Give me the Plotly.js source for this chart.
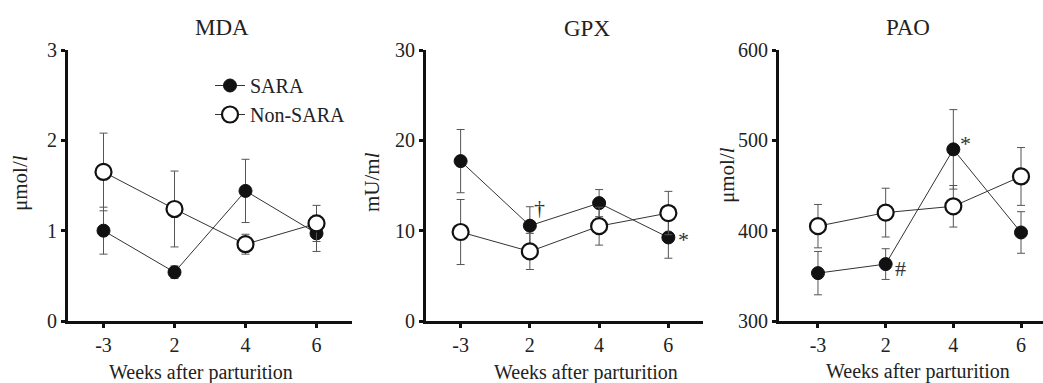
<!DOCTYPE html>
<html>
<head>
<meta charset="utf-8">
<script src="https://cdn.plot.ly/plotly-3.0.1.min.js"></script>
<style>html,body{margin:0;padding:0;background:#fff}#chart{width:1043px;height:383px}</style>
</head>
<body>
<div id="chart"></div>
<script>
// ---- data ----
const weeks = ["-3", "2", "4", "6"];
const panelTitles = ["MDA", "GPX", "PAO"];
const yTitles = ["μmol/<i>l</i>", "mU/m<i>l</i>", "μmol/<i>l</i>"];
const xTitle = "Weeks after parturition";
const seriesNames = ["SARA", "Non-SARA"];

const mdaSara = [1.00, 0.54, 1.44, 0.97];
const mdaSaraErr = [0.26, 0.07, 0.35, 0.20];
const mdaNon = [1.65, 1.24, 0.85, 1.08];
const mdaNonErr = [0.43, 0.42, 0.11, 0.20];

const gpxSara = [17.7, 10.55, 13.05, 9.25];
const gpxSaraErr = [3.5, 2.1, 1.5, 2.3];
const gpxNon = [9.85, 7.7, 10.5, 11.95];
const gpxNonErr = [3.6, 2.0, 2.1, 2.4];

const paoSara = [353, 363, 490, 398];
const paoSaraErr = [24, 17, 44, 23];
const paoNon = [405, 420, 427, 460];
const paoNonErr = [24, 27, 23, 32];

const yRanges = [[0, 3], [0, 30], [300, 600]];
const yDticks = [1, 10, 100];

// significance marks: [panel index, week index, symbol]
const marks = [[1, 1, "†"], [1, 3, "*"], [2, 1, "#"], [2, 2, "*"]];
// ---- end data ----

const FONT = "Liberation Serif, Times New Roman, serif";
const TXT = "#222";
const sara = [mdaSara, gpxSara, paoSara];
const saraErr = [mdaSaraErr, gpxSaraErr, paoSaraErr];
const non = [mdaNon, gpxNon, paoNon];
const nonErr = [mdaNonErr, gpxNonErr, paoNonErr];

const traces = [];
for (let p = 0; p < 3; p++) {
  const xa = p === 0 ? "x" : "x" + (p + 1);
  const ya = p === 0 ? "y" : "y" + (p + 1);
  traces.push({
    x: weeks, y: sara[p], xaxis: xa, yaxis: ya, type: "scatter", mode: "lines+markers",
    name: seriesNames[0], showlegend: p === 0, legendrank: 1,
    line: {color: "#333", width: 1},
    marker: {color: "#111", size: 13, line: {color: "#111", width: 1}},
    error_y: {type: "data", array: saraErr[p], visible: true, color: "#555", thickness: 1, width: 4}
  });
  traces.push({
    x: weeks, y: non[p], xaxis: xa, yaxis: ya, type: "scatter", mode: "lines+markers",
    name: seriesNames[1], showlegend: p === 0, legendrank: 2,
    line: {color: "#333", width: 1},
    marker: {color: "#fff", size: 16, line: {color: "#111", width: 2.2}},
    error_y: {type: "data", array: nonErr[p], visible: true, color: "#555", thickness: 1, width: 4}
  });
}

const W = 1043, H = 383;
const xDomains = [[68 / W, 352 / W], [426 / W, 703 / W], [779 / W, 1]];
const xRanges = [[-0.5, 3.5], [-0.5, 3.5], [-0.576, 3.325]];
const yDomain = [(H - 321) / H, (H - 50) / H];

const layout = {
  width: W, height: H,
  margin: {l: 0, r: 0, t: 0, b: 0},
  paper_bgcolor: "#fff", plot_bgcolor: "#fff",
  font: {family: FONT, size: 20, color: TXT},
  showlegend: true,
  legend: {x: 210 / W, y: 1 - 66 / H, xanchor: "left", yanchor: "top",
    bgcolor: "rgba(0,0,0,0)", font: {family: FONT, size: 20, color: TXT},
    tracegroupgap: 0, itemwidth: 30},
  annotations: []
};

for (let p = 0; p < 3; p++) {
  const sx = p === 0 ? "" : String(p + 1);
  layout["xaxis" + sx] = {
    domain: xDomains[p], anchor: "y" + sx, type: "category", range: xRanges[p],
    showline: true, linecolor: "#111", linewidth: 3, mirror: false,
    ticks: "outside", ticklen: 4, tickwidth: 3, tickcolor: "#111",
    showgrid: false, zeroline: false, fixedrange: true,
    tickfont: {family: FONT, size: 20, color: TXT}
  };
  layout["yaxis" + sx] = {
    domain: yDomain, anchor: "x" + sx, range: yRanges[p], dtick: yDticks[p], tick0: yRanges[p][0],
    showline: true, linecolor: "#111", linewidth: 3,
    ticks: "outside", ticklen: 4, tickwidth: 3, tickcolor: "#111",
    showgrid: false, zeroline: false, fixedrange: true,
    tickfont: {family: FONT, size: 20, color: TXT}
  };
}

const titlePos = [[222, 27], [587, 28], [908, 27]];
const xTitlePos = [[201, 372], [586, 372], [918, 371]];
const yTitlePos = [[20, 183], [372, 182], [727, 175]];
for (let p = 0; p < 3; p++) {
  layout.annotations.push({text: panelTitles[p], xref: "paper", yref: "paper",
    x: titlePos[p][0] / W, y: 1 - titlePos[p][1] / H, xanchor: "center", yanchor: "middle",
    showarrow: false, font: {family: FONT, size: 23, color: TXT}});
  layout.annotations.push({text: xTitle, xref: "paper", yref: "paper",
    x: xTitlePos[p][0] / W, y: 1 - xTitlePos[p][1] / H, xanchor: "center", yanchor: "middle",
    showarrow: false, font: {family: FONT, size: 20, color: TXT}});
  layout.annotations.push({text: yTitles[p], xref: "paper", yref: "paper", textangle: -90,
    x: yTitlePos[p][0] / W, y: 1 - yTitlePos[p][1] / H, xanchor: "center", yanchor: "middle",
    showarrow: false, font: {family: FONT, size: 21, color: TXT}});
}

marks.forEach(([p, wi, sym]) => {
  const sx = p === 0 ? "" : String(p + 1);
  let off;
  if (sym === "†") off = [10, 18];
  else if (sym === "#") off = [15, -4];
  else if (p === 2) off = [12, 6];
  else off = [15, -2];
  layout.annotations.push({text: sym, xref: "x" + sx, yref: "y" + sx,
    x: wi, y: sara[p][wi], xshift: off[0], yshift: off[1],
    xanchor: "center", yanchor: "middle", showarrow: false,
    font: {family: FONT, size: 22, color: "#333"}});
});

Plotly.newPlot("chart", traces, layout, {displayModeBar: false, staticPlot: true});
</script>
</body>
</html>
